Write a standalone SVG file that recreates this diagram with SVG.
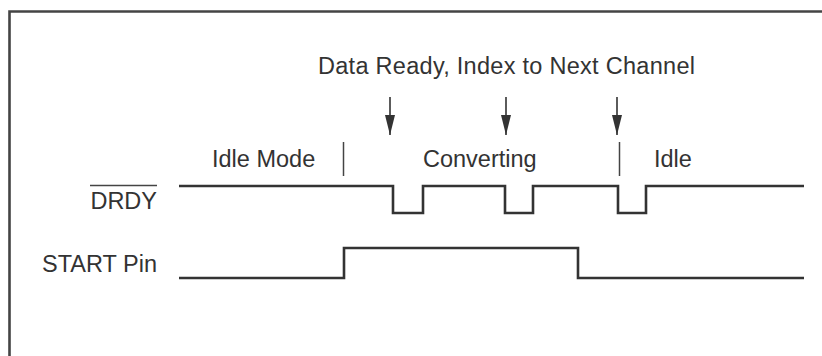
<svg xmlns="http://www.w3.org/2000/svg" width="822" height="356" viewBox="0 0 822 356">
<style>
text{font-family:"Liberation Sans",Arial,sans-serif;font-size:23.5px;fill:#333}
.w{fill:none;stroke:#333;stroke-width:2.6}
.sep{stroke:#444;stroke-width:1.5}
.arr{stroke:#333;stroke-width:1.6;marker-end:url(#ah)}
</style>
<defs>
<marker id="ah" markerUnits="userSpaceOnUse" markerWidth="20" markerHeight="10" refX="20" refY="5" orient="auto" viewBox="0 0 20 10">
<path d="M0,0 L20,5 L0,10 Z" fill="#333"/>
</marker>
</defs>
<rect x="0" y="0" width="822" height="356" fill="#fff"/>
<path d="M9.5,360 V11.5 H830" fill="none" stroke="#444" stroke-width="2.6"/>
<g id="title"><text x="318" y="74" textLength="377">Data Ready, Index to Next Channel</text></g>
<g id="phases">
<text x="212" y="167">Idle Mode</text>
<text x="423" y="167">Converting</text>
<text x="654" y="167">Idle</text>
</g>
<g id="signal-labels">
<text x="157" y="209" text-anchor="end">DRDY</text>
<line x1="90" y1="185.5" x2="157" y2="185.5" stroke="#444" stroke-width="1.4"/>
<text x="157" y="272" text-anchor="end">START Pin</text>
</g>
<g id="connectors">
<line class="arr" x1="390" y1="97" x2="390" y2="135"/>
<line class="arr" x1="506" y1="97" x2="506" y2="135"/>
<line class="arr" x1="617" y1="97" x2="617" y2="135"/>
<line class="sep" x1="343.5" y1="142" x2="343.5" y2="176"/>
<line class="sep" x1="619.5" y1="142" x2="619.5" y2="176"/>
</g>
<g id="drdy-wave"><path class="w" d="M179,186 H393 V213 H423 V186 H505 V213 H533 V186 H618 V213 H646 V186 H804"/></g>
<g id="start-wave"><path class="w" d="M179,278 H344 V248 H578 V278 H804"/></g>
</svg>
